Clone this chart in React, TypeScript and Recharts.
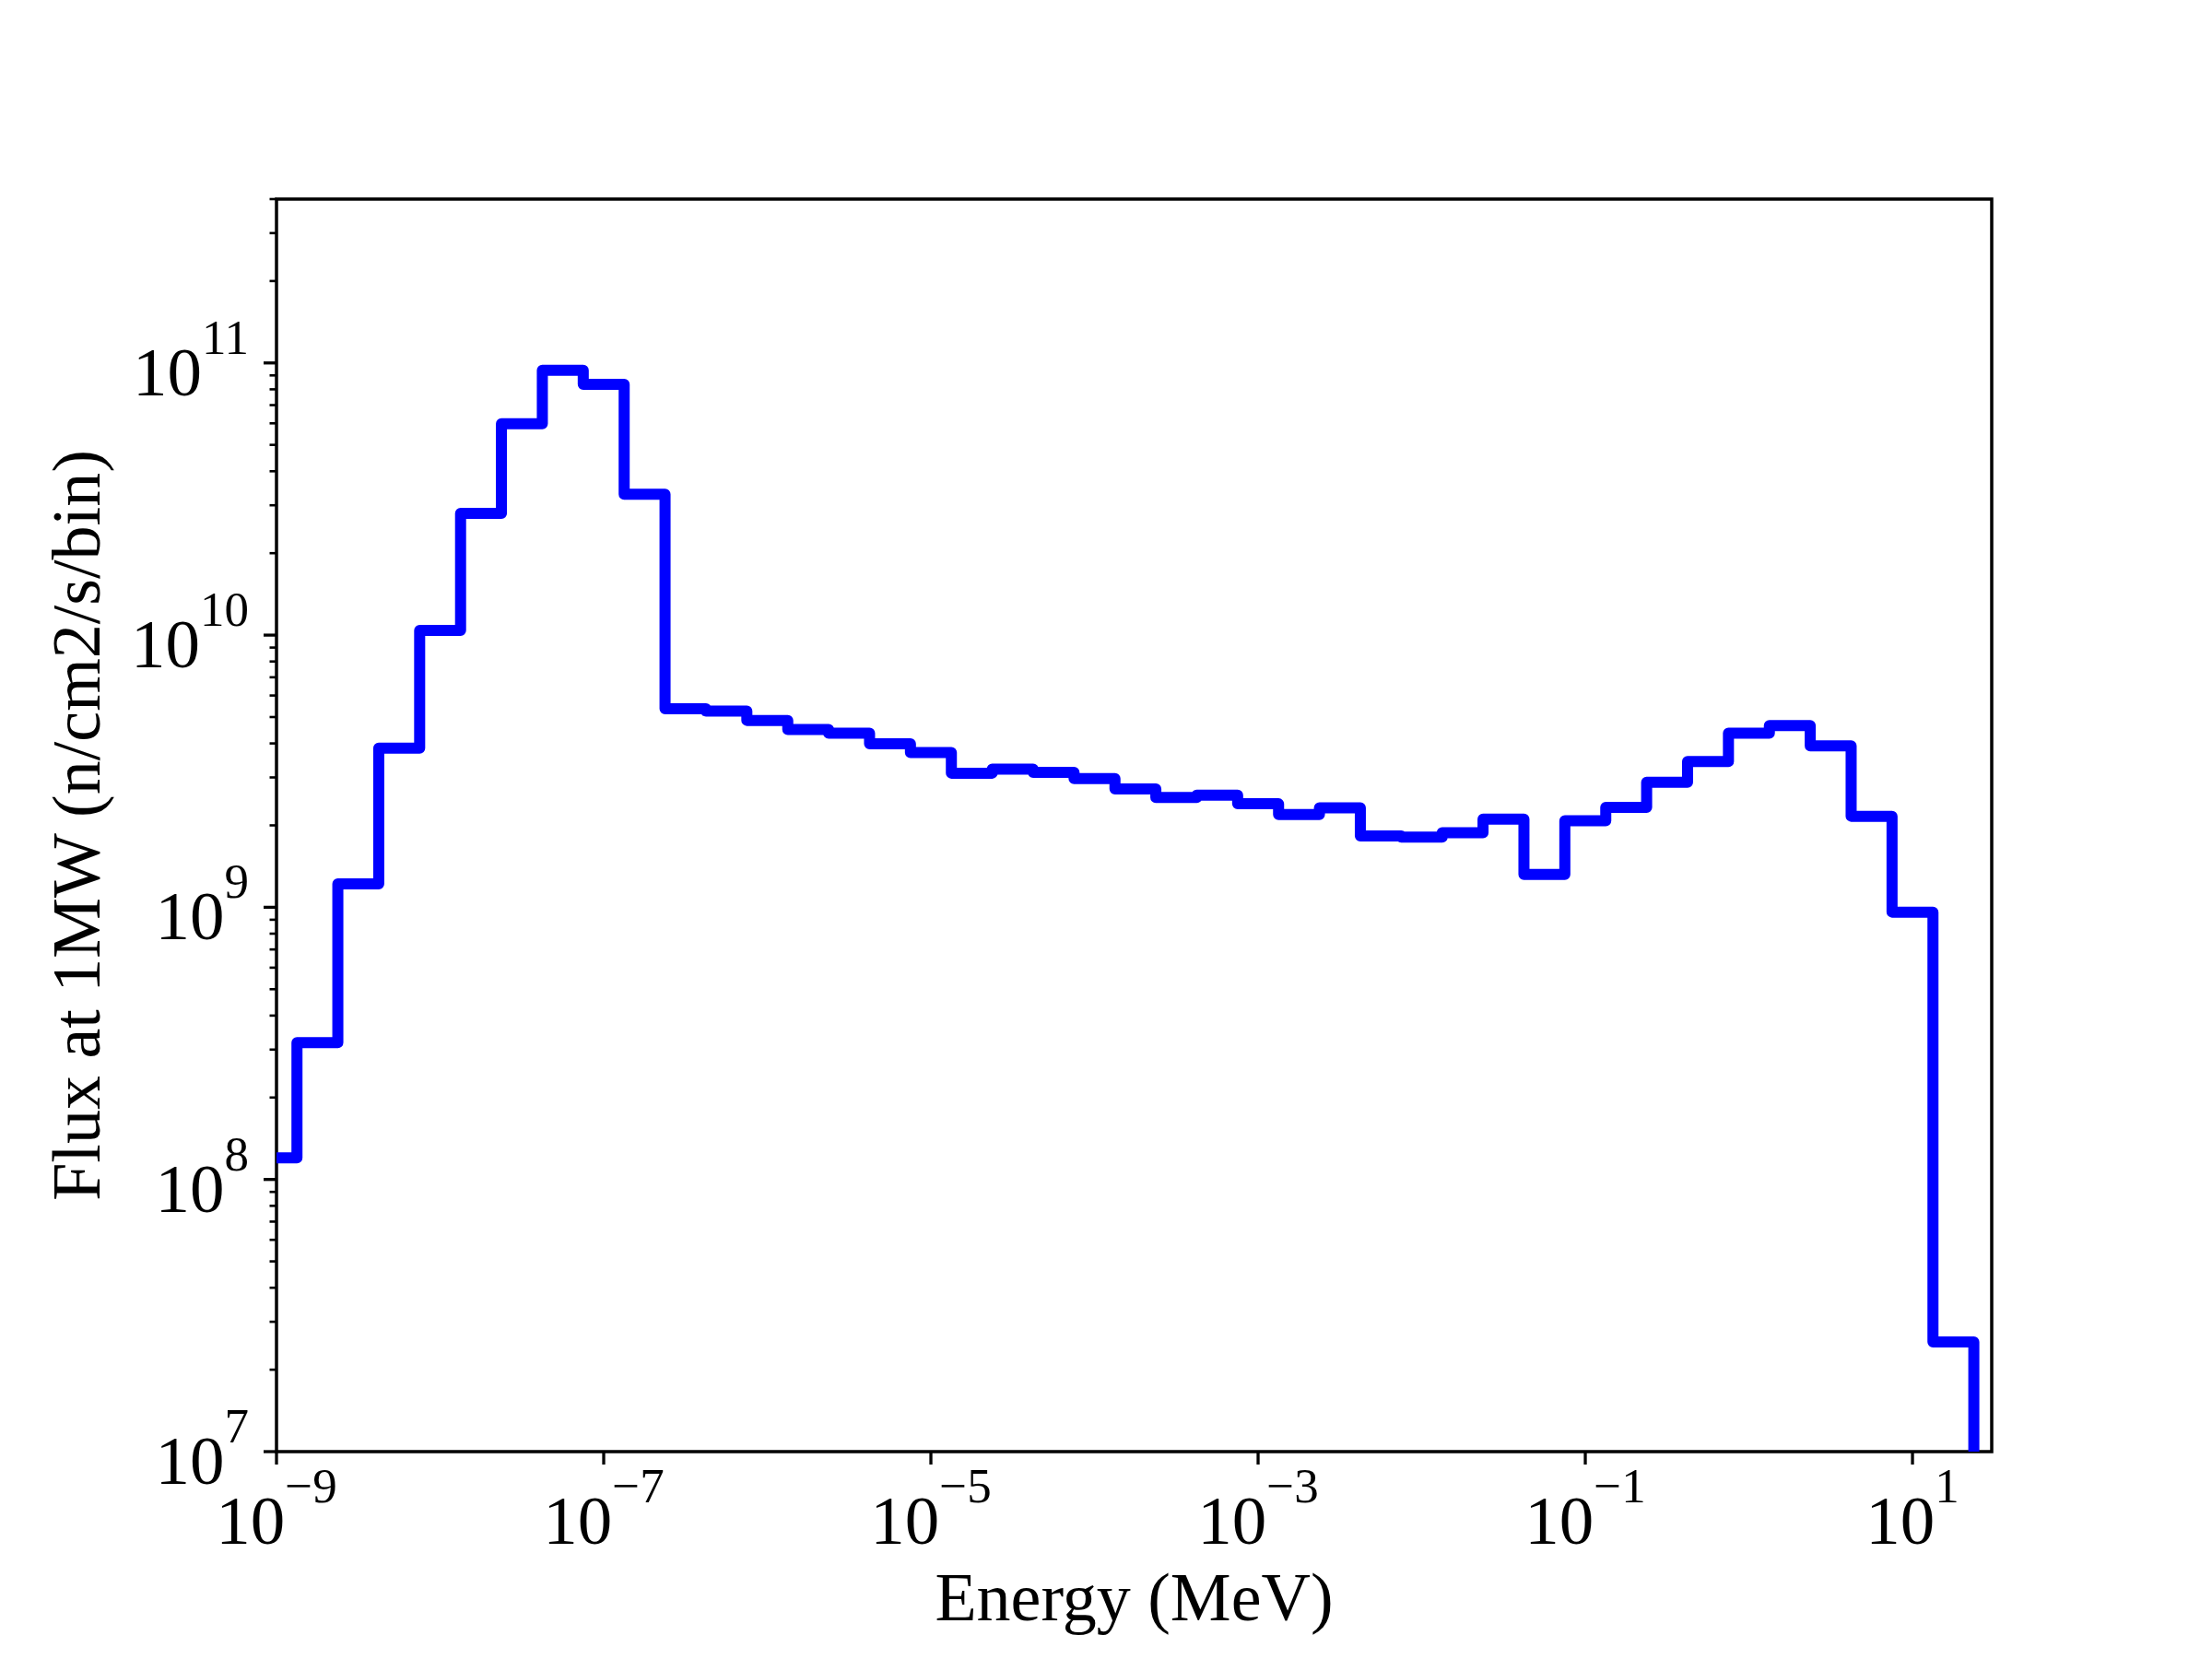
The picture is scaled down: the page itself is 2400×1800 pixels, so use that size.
import { Label, Line, LineChart, ReferenceArea, XAxis, YAxis } from "recharts";

// bin edges (MeV); first point is the left edge of the axis
const energy = [
  1e-9, 1.334e-9, 2.371e-9, 4.217e-9, 7.499e-9,
  1.334e-8, 2.371e-8, 4.217e-8, 7.499e-8,
  1.334e-7, 2.371e-7, 4.217e-7, 7.499e-7,
  1.334e-6, 2.371e-6, 4.217e-6, 7.499e-6,
  1.334e-5, 2.371e-5, 4.217e-5, 7.499e-5,
  1.334e-4, 2.371e-4, 4.217e-4, 7.499e-4,
  1.334e-3, 2.371e-3, 4.217e-3, 7.499e-3,
  1.334e-2, 2.371e-2, 4.217e-2, 7.499e-2,
  0.1334, 0.2371, 0.4217, 0.7499,
  1.334, 2.371, 4.217, 7.499,
  13.34, 23.71,
];

// flux per bin (n/cm2/s/bin); last entry drops below the axis floor
const flux = [
  1.2e8, 3.18e8, 1.22e9, 3.84e9, 1.04e10, 2.8e10, 5.98e10, 9.4e10, 8.34e10, 3.29e10,
  5.36e9, 5.26e9, 4.86e9, 4.5e9, 4.36e9, 3.99e9, 3.7e9, 3.11e9, 3.22e9, 3.13e9,
  2.97e9, 2.72e9, 2.53e9, 2.58e9, 2.4e9, 2.19e9, 2.32e9, 1.83e9, 1.81e9, 1.88e9,
  2.11e9, 1.32e9, 2.08e9, 2.33e9, 2.88e9, 3.43e9, 4.36e9, 4.65e9, 3.92e9, 2.16e9,
  9.6e8, 2.53e7, 1e6,
];

const xTicks = [1e-9, 1e-7, 1e-5, 1e-3, 1e-1, 10];
const yMajor = [1e7, 1e8, 1e9, 1e10, 1e11];
const yMinor = [2e7, 3e7, 4e7, 5e7, 6e7, 7e7, 8e7, 9e7,
  2e8, 3e8, 4e8, 5e8, 6e8, 7e8, 8e8, 9e8,
  2e9, 3e9, 4e9, 5e9, 6e9, 7e9, 8e9, 9e9,
  2e10, 3e10, 4e10, 5e10, 6e10, 7e10, 8e10, 9e10,
  2e11, 3e11, 4e11];

const xDomain = [1e-9, 30.5];
const yDomain = [1e7, 4e11];

const data = energy.map((e, i) => ({ e, flux: flux[i] }));

const SERIF = '"Liberation Serif", "Times New Roman", serif';

const expText = (v: number) => {
  const p = Math.round(Math.log10(v));
  return p < 0 ? "\u2212" + Math.abs(p) : String(p);
};

const XTick = (props: any) => {
  const { x, y, payload } = props;
  return (
    <g>
      <line x1={x} x2={x} y1={y} y2={y + 14} stroke="#000" strokeWidth={3.3} />
      <text x={x} y={y + 100} textAnchor="middle" fontFamily={SERIF} fontSize={75} fill="#000">
        10<tspan dy={-45} fontSize={53}>{expText(payload.value)}</tspan>
      </text>
    </g>
  );
};

const YTick = (props: any) => {
  const { x, y, payload } = props;
  const v = payload.value;
  const major = yMajor.some((m) => Math.abs(m - v) < m * 1e-6);
  return (
    <g>
      <line x1={x} x2={x - (major ? 14 : 7.5)} y1={y} y2={y} stroke="#000" strokeWidth={major ? 3.3 : 2.6} />
      {major && (
        <text x={x - 30} y={y + 35} textAnchor="end" fontFamily={SERIF} fontSize={75} fill="#000">
          10<tspan dy={-45} fontSize={53}>{expText(v)}</tspan>
        </text>
      )}
    </g>
  );
};

const XTitle = (props: any) => {
  const vb = props.viewBox;
  return (
    <text x={vb.x + vb.width / 2} y={vb.y + 183} textAnchor="middle" fontFamily={SERIF} fontSize={74} fill="#000">
      Energy (MeV)
    </text>
  );
};

const YTitle = (props: any) => {
  const vb = props.viewBox;
  const cx = vb.x + vb.width - 192;
  const cy = vb.y + vb.height / 2;
  return (
    <text x={cx} y={cy} transform={`rotate(-90, ${cx}, ${cy})`} textAnchor="middle" fontFamily={SERIF} fontSize={74} fill="#000">
      Flux at 1MW (n/cm2/s/bin)
    </text>
  );
};

const App = () => {
  return (
    <div style={{ position: "absolute", left: 0, top: 0, width: 2400, height: 1800, background: "#fff" }}>
      <LineChart width={2400} height={1800} data={data} margin={{ top: 216, right: 239, bottom: 0, left: 0 }}>
        <XAxis
          dataKey="e"
          type="number"
          scale="log"
          domain={xDomain}
          allowDataOverflow
          ticks={xTicks}
          interval={0}
          height={225}
          tickSize={0}
          tickMargin={0}
          tickLine={false}
          axisLine={false}
          tick={XTick}
        >
          <Label content={XTitle} />
        </XAxis>
        <YAxis
          type="number"
          scale="log"
          domain={yDomain}
          allowDataOverflow
          ticks={[...yMajor, ...yMinor]}
          interval={0}
          width={300}
          tickSize={0}
          tickMargin={0}
          tickLine={false}
          axisLine={false}
          tick={YTick}
        >
          <Label content={YTitle} />
        </YAxis>
        <Line
          dataKey="flux"
          type="stepAfter"
          stroke="#0000ff"
          strokeWidth={12}
          strokeLinejoin="round"
          dot={false}
          activeDot={false}
          isAnimationActive={false}
        />
        <ReferenceArea
          x1={xDomain[0]}
          x2={xDomain[1]}
          y1={yDomain[0]}
          y2={yDomain[1]}
          fill="none"
          fillOpacity={0}
          stroke="#000"
          strokeWidth={3.5}
        />
      </LineChart>
    </div>
  );
};

export default App;
